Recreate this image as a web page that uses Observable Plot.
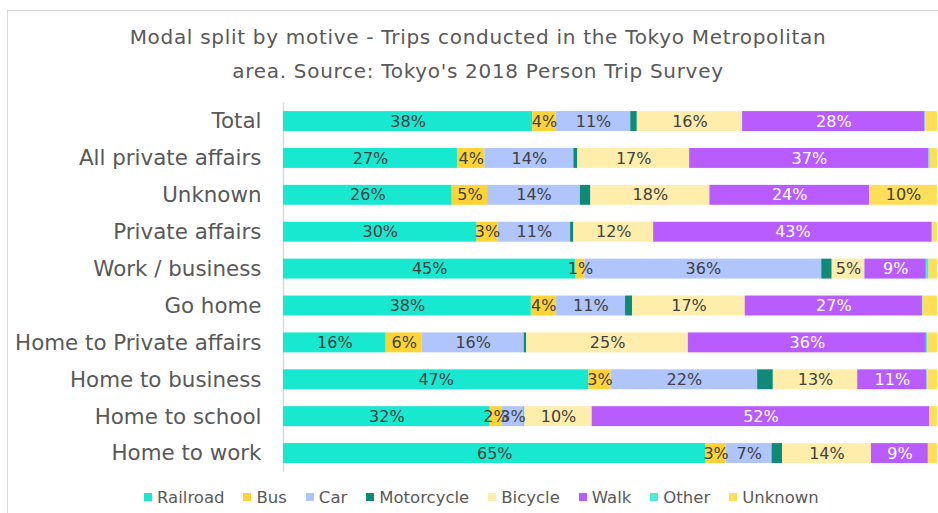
<!DOCTYPE html>
<html>
<head>
<meta charset="utf-8">
<script src="https://cdn.jsdelivr.net/npm/d3@7"></script>
<script src="https://cdn.jsdelivr.net/npm/@observablehq/plot@0.6"></script>
<style>
  html, body { margin: 0; padding: 0; background: #fff; overflow: hidden; }
  #wrap { position: relative; width: 938px; height: 513px; overflow: hidden; }
  #frame { position: absolute; left: 7px; top: 10px; width: 960px; height: 520px; border: 1px solid #d9d9d9; box-sizing: border-box; }
  #title { position: absolute; left: 8px; top: 21px; width: 940px; text-align: center;
           font-family: "DejaVu Sans", sans-serif; font-size: 20px; letter-spacing: 0.7px; line-height: 33.5px; color: #595959; }
  #chart { position: absolute; left: 0; top: 0; }
  #legend { position: absolute; left: 144px; top: 486px; height: 22px; display: flex; align-items: center;
            font-family: "DejaVu Sans", sans-serif; font-size: 16.5px; color: #595959; white-space: nowrap; }
  #legend .item { display: flex; align-items: center; margin-right: 19px; }
  #legend .sw { width: 8px; height: 8px; margin-right: 5px; }
</style>
</head>
<body>
<div id="wrap">
  <div id="frame"></div>
  <div id="chart"></div>
  <div id="title">Modal split by motive - Trips conducted in the Tokyo Metropolitan<br>area. Source: Tokyo's 2018 Person Trip Survey</div>
  <div id="legend"></div>
</div>
<script>
const categories = ["Total", "All private affairs", "Unknown", "Private affairs", "Work / business", "Go home", "Home to Private affairs", "Home to business", "Home to school", "Home to work"];
const modes = ["Railroad", "Bus", "Car", "Motorcycle", "Bicycle", "Walk", "Other", "Unknown"];
const colors = ["#19E8D0", "#FFD335", "#AFC5FC", "#0E8A78", "#FFEEAB", "#B95CFF", "#4BEBDC", "#FFDE59"];

const railroad   = [38.1, 26.6, 25.8, 29.6, 44.7, 37.9, 15.7, 46.7, 31.6, 64.6];
const bus        = [3.6, 4.2, 5.4, 3.2, 1.4, 3.8, 5.5, 3.4, 1.8, 3.1];
const car        = [11.4, 13.6, 14.2, 11.1, 36.2, 10.6, 15.6, 22.4, 3.4, 7.0];
const motorcycle = [1.0, 0.6, 1.6, 0.5, 1.6, 1.1, 0.4, 2.4, 0.1, 1.6];
const bicycle    = [16.1, 17.1, 18.2, 12.2, 5.0, 17.2, 24.7, 12.9, 10.3, 13.6];
const walk       = [27.9, 36.6, 24.4, 42.6, 9.4, 27.1, 36.4, 10.6, 51.6, 8.7];
const other      = [0.1, 0.2, 0.0, 0.1, 0.4, 0.1, 0.2, 0.1, 0.1, 0.0];
const unknown    = [1.8, 1.1, 10.4, 0.7, 1.3, 2.2, 1.5, 1.5, 1.1, 1.4];

const labeledModes = ["Railroad", "Bus", "Car", "Bicycle", "Walk"];

const series = [railroad, bus, car, motorcycle, bicycle, walk, other, unknown];
const data = [];
modes.forEach((m, i) => {
  categories.forEach((c, j) => {
    data.push({mode: m, category: c, value: series[i][j]});
  });
});

const labelText = d => {
  if (labeledModes.includes(d.mode) || (d.mode === "Unknown" && d.value >= 5)) return Math.round(d.value) + "%";
  return null;
};

const chart = Plot.plot({
  width: 938,
  height: 513,
  marginLeft: 283,
  marginRight: 1,
  marginTop: 102.6,
  marginBottom: 41.5,
  style: {fontFamily: "'DejaVu Sans', sans-serif", color: "#595959", background: "transparent"},
  x: {domain: [0, 100], axis: null},
  y: {domain: categories, paddingInner: 0.46, paddingOuter: 0.23, round: false, label: null},
  color: {domain: modes, range: colors},
  marks: [
    Plot.ruleX([0], {stroke: "#d9d9d9", strokeWidth: 1.5}),
    Plot.barX(data, {x: "value", y: "category", fill: "mode"}),
    Plot.text(data, Plot.stackX({
      x: "value", y: "category", z: "mode",
      text: labelText,
      fill: d => d.mode === "Walk" ? "#ffffff" : "#404040",
      fontSize: 16
    })),
    Plot.axisY({tickSize: 0, tickPadding: 22, fontSize: 21.4, label: null, fill: "#595959"})
  ]
});
document.getElementById("chart").appendChild(chart);

const legend = document.getElementById("legend");
modes.forEach((m, i) => {
  const item = document.createElement("div");
  item.className = "item";
  const sw = document.createElement("div");
  sw.className = "sw";
  sw.style.background = colors[i];
  const t = document.createElement("span");
  t.textContent = m;
  item.appendChild(sw);
  item.appendChild(t);
  legend.appendChild(item);
});
</script>
</body>
</html>
